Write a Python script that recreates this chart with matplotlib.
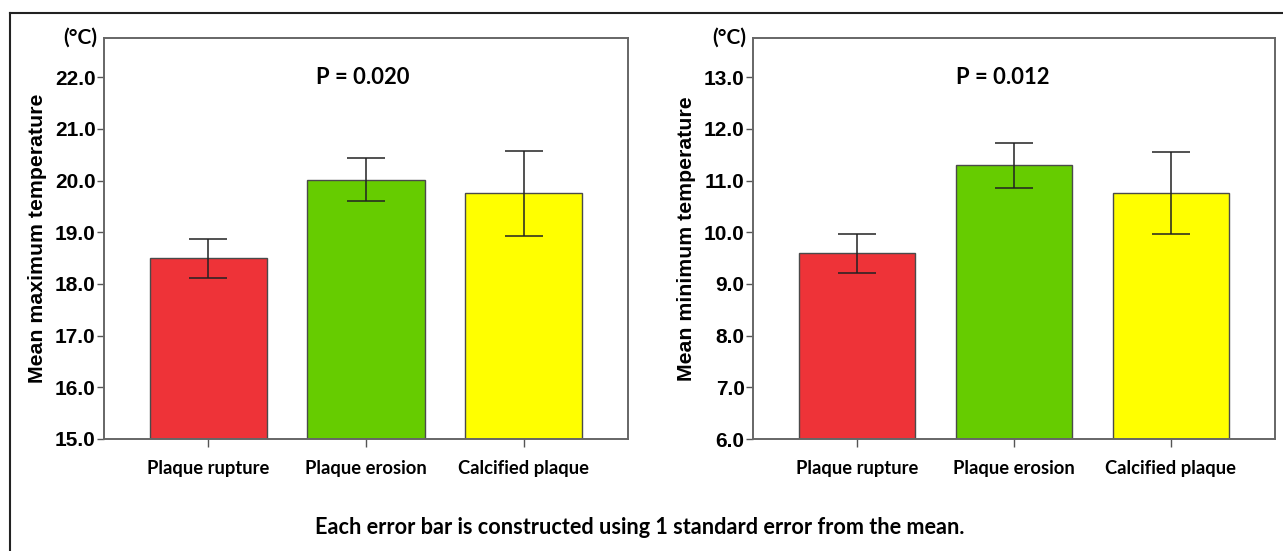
import numpy as np
import matplotlib.pyplot as plt
from matplotlib.lines import Line2D

# -------------------------
# data
# -------------------------
groups = ["Plaque rupture", "Plaque erosion", "Calcified plaque"]
colors = ["#EE3338", "#66CC00", "#FFFF00"]

max_mean = [18.50, 20.02, 19.76]
max_upper = [18.87, 20.43, 20.57]
max_lower = [18.12, 19.61, 18.93]

min_mean = [9.60, 11.30, 10.76]
min_upper = [9.97, 11.73, 11.55]
min_lower = [9.21, 10.86, 9.97]

max_ticks = [15.0, 16.0, 17.0, 18.0, 19.0, 20.0, 21.0, 22.0]
min_ticks = [6.0, 7.0, 8.0, 9.0, 10.0, 11.0, 12.0, 13.0]

p_max = "P = 0.020"
p_min = "P = 0.012"
footer = "Each error bar is constructed using 1 standard error from the mean."

W, H = 1283, 551
fig = plt.figure(figsize=(W / 100, H / 100), dpi=100)

tick_font = {"family": "Liberation Sans", "weight": "bold", "size": 15}
cal_font = {"family": "Lato", "weight": "bold"}


def panel(rect, mean, upper, lower, ticks, ylabel, ptext, px):
    ax = fig.add_axes(rect)
    x = np.arange(len(groups))
    mean = np.array(mean)
    err = [mean - np.array(lower), np.array(upper) - mean]
    ax.bar(x, mean - ticks[0], bottom=ticks[0], width=0.743, color=colors,
           edgecolor="#4a4a4a", linewidth=1.0, zorder=2)
    ax.errorbar(x, mean, yerr=err, fmt="none", ecolor="#222222",
                elinewidth=1.1, capsize=13.5, capthick=1.1, zorder=3)
    ax.set_xlim(-0.663, 2.663)
    ax.set_ylim(ticks[0], ticks[-1] + 0.76)
    ax.set_yticks(ticks)
    ax.set_yticklabels([f"{t:.1f}" for t in ticks], fontdict=tick_font)
    ax.set_xticks(x)
    ax.set_xticklabels(groups, fontdict={**cal_font, "size": 13.2})
    ax.tick_params(axis="y", length=5, width=1, color="#555555", pad=1)
    ax.tick_params(axis="x", length=6, width=1, color="#555555", pad=9)
    for s in ax.spines.values():
        s.set_color("#666666")
        s.set_linewidth(1.4)
    ax.set_ylabel(ylabel, fontdict={**tick_font, "size": 15.3}, labelpad=6)
    ax.text(px, ticks[-1], ptext, transform=ax.transData, ha="center",
            va="center", fontdict={**cal_font, "size": 15.8})
    ax.text(-0.013, 1.0, "(°C)", transform=ax.transAxes, ha="right",
            va="center", fontdict={**cal_font, "size": 15})
    return ax


panel([104 / W, 1 - 439 / H, 524 / W, 401 / H], max_mean, max_upper,
      max_lower, max_ticks, "Mean maximum temperature", p_max, 0.98)
panel([753 / W, 1 - 439 / H, 522 / W, 401 / H], min_mean, min_upper,
      min_lower, min_ticks, "Mean minimum temperature", p_min, 0.93)

fig.text(640 / W, 1 - 527 / H, footer, ha="center", va="center",
         fontdict={**cal_font, "size": 15.6})

# outer frame (left and top edges only)
fig.add_artist(Line2D([10 / W, 10 / W], [0, 1 - 13 / H], transform=fig.transFigure,
                      color="#222222", linewidth=1.5))
fig.add_artist(Line2D([10 / W, 1], [1 - 13 / H, 1 - 13 / H], transform=fig.transFigure,
                      color="#222222", linewidth=1.5))

fig.savefig("out.png", dpi=100)
